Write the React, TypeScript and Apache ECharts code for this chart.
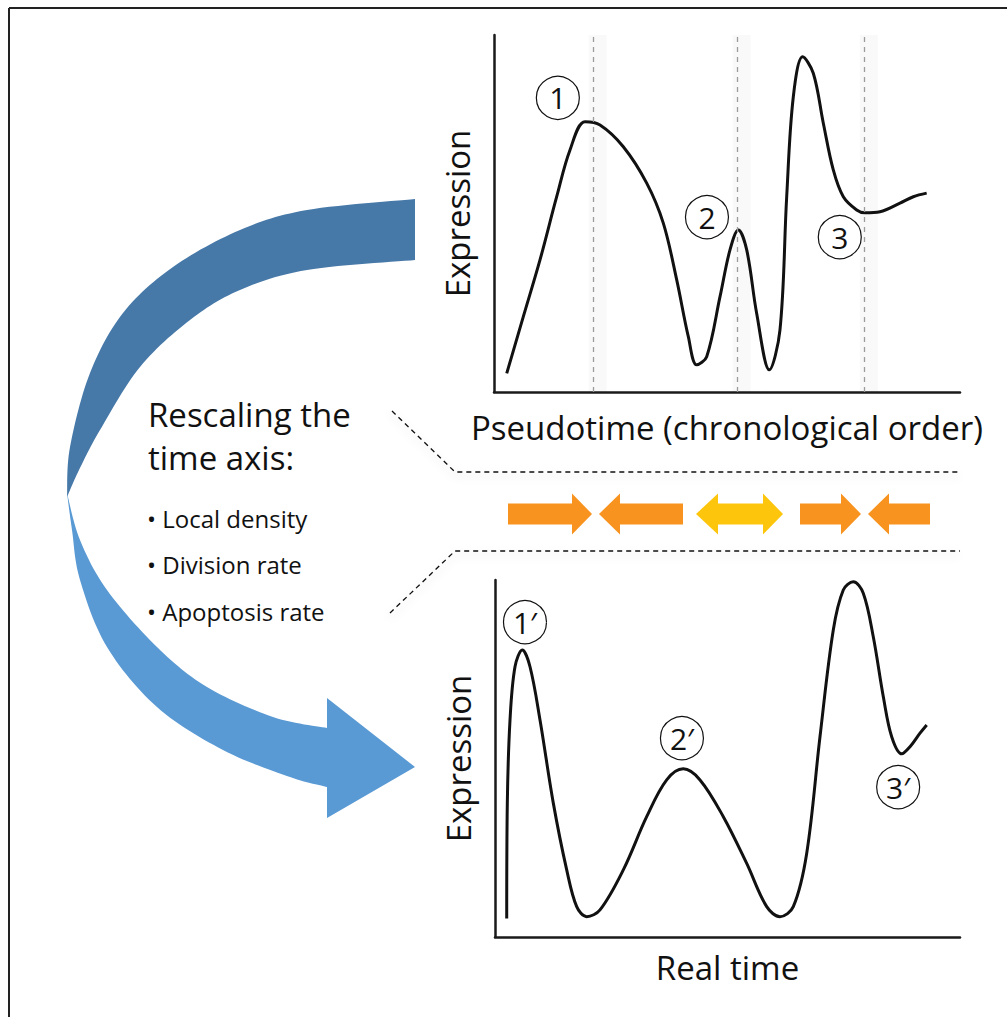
import React, { useEffect, useRef } from "react";
import * as echarts from "echarts";

// ---------- data ----------
const pseudoX = [2.73, 6.29, 9.87, 13.45, 16.31, 19.53, 22.75, 27.75, 32.77, 36.33, 39.21, 41.7, 43.5, 45.64, 48.5, 50.64, 52.43, 54.23, 56.37, 59.08, 61.37, 62.81, 64.23, 66.24, 68.52, 70.67, 72.81, 74.96, 77.83, 79.61, 82.83, 87.12, 89.98, 92.85];
const pseudoY = [5.2, 21.1, 37.0, 54.7, 67.8, 75.7, 74.8, 68.7, 58.5, 47.3, 31.4, 15.5, 7.6, 9.9, 26.7, 39.8, 45.4, 39.8, 22.0, 6.2, 17.4, 54.7, 82.7, 93.9, 89.3, 75.3, 62.2, 54.7, 51.0, 50.2, 50.5, 52.9, 54.7, 55.7];

const realX = [2.52, 2.65, 3.23, 4.3, 5.87, 7.53, 9.68, 12.54, 15.42, 17.57, 19.72, 22.58, 27.59, 32.62, 36.92, 40.49, 44.09, 49.1, 54.13, 58.43, 61.29, 64.15, 67.03, 69.89, 72.75, 74.9, 77.05, 79.2, 81.35, 83.51, 85.31, 87.46, 89.25, 91.4, 92.84];
const realY = [5.2, 37.5, 60.8, 75.7, 80.4, 75.7, 60.8, 37.5, 18.8, 8.5, 5.7, 7.6, 18.8, 33.7, 44.0, 47.1, 44.0, 33.7, 20.6, 8.5, 5.7, 8.5, 23.4, 56.1, 86.0, 97.2, 99.5, 96.3, 84.1, 67.3, 56.1, 51.3, 53.3, 57.1, 59.4];

const pseudoMarkerLabels = ["1", "2", "3"];
const pseudoMarkerX = [13.7, 45.7, 74.2];
const pseudoMarkerY = [82.4, 49.0, 43.4];

const realMarkerLabels = ["1\u2032", "2\u2032", "3\u2032"];
const realMarkerX = [6.45, 40.2, 86.7];
const realMarkerY = [88.2, 55.7, 42.0];

const pseudoBoundaries = [21.2, 52.1, 79.4];

const headingLines = ["Rescaling the", "time axis:"];
const bulletItems = ["Local density", "Division rate", "Apoptosis rate"];

const pseudoAxisName = "Pseudotime (chronological order)";
const realAxisName = "Real time";
const yAxisName = "Expression";

// ---------- helpers ----------
const FONT = "'Open Sans', 'Noto Sans', sans-serif";

function spline(pts: number[][], n = 14): number[][] {
  const out: number[][] = [];
  for (let i = 0; i < pts.length - 1; i++) {
    const p0 = pts[i - 1] || pts[i];
    const p1 = pts[i];
    const p2 = pts[i + 1];
    const p3 = pts[i + 2] || pts[i + 1];
    for (let k = 0; k < n; k++) {
      const t = k / n;
      const t2 = t * t;
      const t3 = t2 * t;
      const f = (a: number, b: number, c: number, d: number) =>
        0.5 * (2 * b + (-a + c) * t + (2 * a - 5 * b + 4 * c - d) * t2 + (-a + 3 * b - 3 * c + d) * t3);
      out.push([f(p0[0], p1[0], p2[0], p3[0]), f(p0[1], p1[1], p2[1], p3[1])]);
    }
  }
  out.push(pts[pts.length - 1]);
  return out;
}

function rightArrow(x0: number, xb: number, xt: number, cy: number) {
  return [[x0, cy - 10.5], [xb, cy - 10.5], [xb, cy - 20.5], [xt, cy], [xb, cy + 20.5], [xb, cy + 10.5], [x0, cy + 10.5]];
}
function leftArrow(xt: number, xb: number, x1: number, cy: number) {
  return [[x1, cy - 10.5], [xb, cy - 10.5], [xb, cy - 20.5], [xt, cy], [xb, cy + 20.5], [xb, cy + 10.5], [x1, cy + 10.5]];
}
function doubleArrow(xl: number, xbl: number, xbr: number, xr: number, cy: number) {
  return [[xl, cy], [xbl, cy - 20.5], [xbl, cy - 10.5], [xbr, cy - 10.5], [xbr, cy - 20.5], [xr, cy], [xbr, cy + 20.5], [xbr, cy + 10.5], [xbl, cy + 10.5], [xbl, cy + 20.5]];
}

function markers(labels: string[], xs: number[], ys: number[]) {
  return labels.map((lab, i) => ({
    name: lab,
    coord: [xs[i], ys[i]],
    symbol: "circle",
    symbolSize: 43,
    itemStyle: { color: "#ffffff", borderColor: "#111111", borderWidth: 1.2 },
    label: { show: true, position: "inside", formatter: lab, fontSize: 30, color: "#111111", fontFamily: FONT },
  }));
}

function axisCommon(name: string, gap: number, rotate?: number) {
  return {
    type: "value",
    min: 0,
    max: 100,
    axisLine: { show: true, onZero: false, lineStyle: { color: "#1a1a1a", width: 2.5 } },
    axisTick: { show: false },
    axisLabel: { show: false },
    splitLine: { show: false },
    name,
    nameLocation: "middle",
    nameGap: gap,
    nameRotate: rotate,
    nameTextStyle: { fontSize: 33, fontFamily: FONT, color: "#111111" },
  };
}

export default function App() {
  const ref = useRef<HTMLDivElement>(null);
  useEffect(() => {
    if (!ref.current) return;
    const chart = echarts.init(ref.current, null, { renderer: "svg" });

    const topOuter = spline([[415, 199], [307, 210], [240, 230], [173, 267], [123, 313], [90, 373], [70, 447], [67, 497]]);
    const topInner = spline([[67, 497], [79, 470], [100, 430], [140, 367], [190, 320], [240, 290], [307, 270], [415, 260]]);
    const botOuter = spline([[67, 493], [72, 530], [80, 580], [107, 647], [157, 707], [223, 750], [290, 777], [327, 787]]);
    const botInner = spline([[327, 728], [273, 717], [207, 687], [157, 647], [107, 590], [80, 540], [67, 493]]);

    const orange = "#F7931E";
    const yellow = "#FDC60D";
    const cy = 514;

    const graphic: any[] = [
      { type: "line", silent: true, shape: { x1: 9, y1: 8, x2: 1007, y2: 8 }, style: { stroke: "#222", lineWidth: 2 } },
      { type: "line", silent: true, shape: { x1: 9, y1: 8, x2: 9, y2: 1017 }, style: { stroke: "#222", lineWidth: 2 } },
      { type: "polygon", silent: true, shape: { points: topOuter.concat(topInner) }, style: { fill: "#4678A8" } },
      {
        type: "polygon",
        silent: true,
        shape: { points: botOuter.concat([[327, 818], [415, 767], [327, 698]], botInner) },
        style: { fill: "#5A9AD4" },
      },
      {
        type: "polyline",
        silent: true,
        shape: { points: [[392, 411], [455, 472], [960, 472]] },
        style: { stroke: "#111", lineWidth: 1.3, lineDash: [5, 4], fill: null, shadowBlur: 8, shadowColor: "rgba(0,0,0,0.2)", shadowOffsetY: 4 },
      },
      {
        type: "polyline",
        silent: true,
        shape: { points: [[390, 613], [455, 551], [960, 551]] },
        style: { stroke: "#111", lineWidth: 1.3, lineDash: [5, 4], fill: null, shadowBlur: 8, shadowColor: "rgba(0,0,0,0.2)", shadowOffsetY: 4 },
      },
      { type: "polygon", silent: true, shape: { points: rightArrow(508, 572, 592, cy) }, style: { fill: orange } },
      { type: "polygon", silent: true, shape: { points: leftArrow(599, 620, 683, cy) }, style: { fill: orange } },
      { type: "polygon", silent: true, shape: { points: doubleArrow(696, 718, 763, 783, cy) }, style: { fill: yellow } },
      { type: "polygon", silent: true, shape: { points: rightArrow(800, 841, 861, cy) }, style: { fill: orange } },
      { type: "polygon", silent: true, shape: { points: leftArrow(868, 889, 930, cy) }, style: { fill: orange } },
    ];

    headingLines.forEach((t, i) => {
      graphic.push({
        type: "text",
        silent: true,
        x: 148,
        y: 414 + i * 43,
        style: { text: t, fontSize: 33, fontFamily: FONT, fill: "#111", verticalAlign: "middle", align: "left" },
      });
    });
    bulletItems.forEach((t, i) => {
      graphic.push({
        type: "text",
        silent: true,
        x: 147,
        y: 518 + i * 46.5,
        style: { text: "\u2022 " + t, fontSize: 24, fontFamily: FONT, fill: "#111", verticalAlign: "middle", align: "left" },
      });
    });

    const option: any = {
      animation: false,
      backgroundColor: "#ffffff",
      grid: [
        { left: 494, top: 35, width: 466, height: 357 },
        { left: 495, top: 580, width: 465, height: 357 },
      ],
      xAxis: [
        { ...axisCommon(pseudoAxisName, 19), gridIndex: 0 },
        { ...axisCommon(realAxisName, 14), gridIndex: 1 },
      ],
      yAxis: [
        { ...axisCommon(yAxisName, 20, 90), gridIndex: 0 },
        { ...axisCommon(yAxisName, 20, 90), gridIndex: 1 },
      ],
      series: [
        {
          type: "line",
          xAxisIndex: 0,
          yAxisIndex: 0,
          data: pseudoX.map((x, i) => [x, pseudoY[i]]),
          smooth: 0.35,
          symbol: "none",
          lineStyle: { color: "#111111", width: 3 },
          z: 3,
          markArea: {
            silent: true,
            itemStyle: { color: "rgba(0,0,0,0.022)" },
            data: pseudoBoundaries.map((b) => [{ xAxis: b - 0.9 }, { xAxis: b + 3.0 }]),
          },
          markLine: {
            silent: true,
            symbol: ["none", "none"],
            label: { show: false },
            lineStyle: { type: [5, 5], color: "#9b9b9b", width: 1.3 },
            data: pseudoBoundaries.map((b) => ({ xAxis: b })),
          },
          markPoint: { silent: true, data: markers(pseudoMarkerLabels, pseudoMarkerX, pseudoMarkerY) },
        },
        {
          type: "line",
          xAxisIndex: 1,
          yAxisIndex: 1,
          data: realX.map((x, i) => [x, realY[i]]),
          smooth: 0.35,
          symbol: "none",
          lineStyle: { color: "#111111", width: 3 },
          z: 3,
          markPoint: { silent: true, data: markers(realMarkerLabels, realMarkerX, realMarkerY) },
        },
      ],
      graphic,
    };
    chart.setOption(option);
    return () => chart.dispose();
  }, []);
  return <div ref={ref} style={{ position: "fixed", left: 0, top: 0, width: 1007, height: 1017 }} />;
}
